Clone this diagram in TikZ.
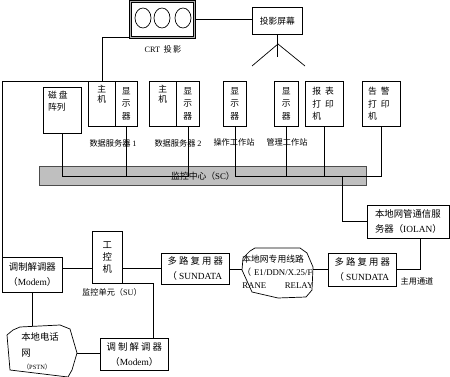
\documentclass[tikz,border=0pt]{standalone}
\usepackage{fontspec}
\usepackage{tikz}
\setmainfont{Liberation Serif}
\newfontfamily\cjk{Noto Sans CJK SC}
\newfontfamily\lat{Liberation Serif}
\newcommand{\unitpx}{0.03cm}

\begin{document}
\begin{tikzpicture}[x=0.03cm, y=-0.03cm, line width=0.6pt,
    box/.style={draw, anchor=north west, inner sep=1pt, align=center,
                font=\cjk\fontsize{8}{13}\selectfont},
    upbox/.style={box, font=\cjk\fontsize{7.5}{11}\selectfont},
    crtbox/.style={draw, anchor=north west, line width=0.5pt,
                   double=black!30, double distance=1.2pt},
    bar/.style={draw=black!70, fill=black!25, line width=0.8pt, anchor=north west,
                font=\cjk\fontsize{7.5}{9}\selectfont},
    intext/.style={inner sep=0pt, align=left, font=\cjk\fontsize{7.5}{10.6}\selectfont},
    lbl/.style={inner sep=0pt, font=\cjk\fontsize{7}{9}\selectfont}]

  \useasboundingbox (0,0) rectangle (450,377);
  \clip (0,0) rectangle (450,377);

  % -- projector and screen -------------------------------------------------
  \node[crtbox, minimum width=64*\unitpx, minimum height=36*\unitpx] (crt) at (130,1) {};
  \foreach \cx in {143,162,183}{
    \draw (\cx,18) ellipse [x radius=8, y radius=10];}
  \node[lbl] (crtlbl) at (163,49) {{\lat CRT}\ \ 投\,影};
  \node[upbox, minimum width=50*\unitpx, minimum height=27*\unitpx] (screen) at (252,7) {投影屏幕};
  \draw (crt.east) -- (crt.east -| screen.west);
  % tripod under the screen
  \coordinate (leg) at (278,44);
  \draw (screen.south) -- ++(0,22);
  \draw (leg) -- ++(-26,22);
  \draw (leg) -- ++(27,22);

  % -- the row of servers, stations and printers -----------------------------
  \node[upbox, minimum width=38*\unitpx, minimum height=46*\unitpx,
        label={[intext, anchor=north west, xshift=4pt, yshift=-3pt]north west:磁\ 盘\\阵列}] (disk) at (43,87) {};
  \node[upbox, minimum width=27*\unitpx, minimum height=45*\unitpx,
        label={[intext, anchor=north, yshift=-3pt, font=\cjk\fontsize{7.5}{8.5}\selectfont]north:主\\机}] (host1) at (88,81) {};
  \node[upbox, minimum width=22*\unitpx, minimum height=45*\unitpx] (disp1) at (115,81) {显\\示\\器};
  \node[upbox, minimum width=27*\unitpx, minimum height=45*\unitpx,
        label={[intext, anchor=north, yshift=-3pt, font=\cjk\fontsize{7.5}{8.5}\selectfont]north:主\\机}] (host2) at (149,81) {};
  \node[upbox, minimum width=23*\unitpx, minimum height=45*\unitpx] (disp2) at (176,81) {显\\示\\器};
  \node[upbox, minimum width=23*\unitpx, minimum height=45*\unitpx] (disp3) at (223,81) {显\\示\\器};
  \node[upbox, minimum width=24*\unitpx, minimum height=45*\unitpx] (disp4) at (274,81) {显\\示\\器};
  \node[upbox, minimum width=38*\unitpx, minimum height=45*\unitpx,
        label={[intext, anchor=north west, xshift=6pt, yshift=-5pt]north west:报\ \ 表\\打\ \ 印\\机}] (rpt) at (305,81) {};
  \node[upbox, minimum width=38*\unitpx, minimum height=45*\unitpx,
        label={[intext, anchor=north west, xshift=5pt, yshift=-5pt]north west:告\ \ 警\\打\ \ 印\\机}] (alarm) at (362,81) {};

  \node[lbl] (srv1) at (113,143) {数据服务器 {\lat 1}};
  \node[lbl] (srv2) at (178,143) {数据服务器 {\lat 2}};
  \node[lbl] (opws) at (234,142) {操作工作站};
  \node[lbl] (mgws) at (287,142) {管理工作站};

  \draw (crt.south west) -| (host1.north);

  % -- the monitoring centre bus ----------------------------------------------
  \node[bar, minimum width=327*\unitpx, minimum height=19*\unitpx] (sc) at (39,166) {监控中心（{\lat SC}）};
  \coordinate (busR) at (alarm.south |- sc.center);
  \coordinate (tap) at (342,176);
  \draw (disk.south) |- (disp2.south |- sc.center) -- (disp2.south);
  \draw (disp3.south) |- (busR) -- (alarm.south);
  \foreach \d in {disp1,disp4,rpt}{
    \draw (\d.south) -- (\d.south |- sc.center);}

  % -- network side -----------------------------------------------------------
  \node[box, minimum width=82*\unitpx, minimum height=33*\unitpx, align=left] (iolan) at (367,205)
       {本地网管通信服\\务器（{\lat IOLAN}）};
  \node[box, minimum width=68*\unitpx, minimum height=33*\unitpx, align=left] (mux2) at (328,253)
       {多 路 复 用 器\\（ {\lat SUNDATA}};
  \node[lbl] (mainch) at (417,281) {主用通道};
  \draw (tap) |- (iolan.west);
  \draw ([xshift=0.36cm]iolan.south) |- (mux2.east);

  % leased line cloud
  \draw (250,251) -- (255,248) -- (300,248) -- (307,253) -- (313,267) -- (312,290)
        -- (306,297) -- (278,298) -- (252,292) -- (242,270) -- (243,258) -- cycle;
  \node[inner sep=0pt, align=left, text width=71*\unitpx, anchor=north west,
        font=\cjk\fontsize{7.5}{11}\selectfont] (lease) at (242,255)
       {本地网专用线路\\（ {\lat E1/DDN/X.25/F}\\{\lat RANE\hfill RELAY}};
  \coordinate (netW) at (242,269);
  \coordinate (netE) at (313,269);
  \draw (netE) -- (netE -| mux2.west);

  \node[box, minimum width=68*\unitpx, minimum height=31*\unitpx, align=left] (mux1) at (161,253)
       {多 路 复 用 器\\（ {\lat SUNDATA}};
  \draw (mux1.east |- netW) -- (netW);

  % -- monitoring unit ---------------------------------------------------------
  \node[box, minimum width=30*\unitpx, minimum height=52*\unitpx, font=\cjk\fontsize{8}{10}\selectfont] (ipc) at (92,231) {工\\控\\机};
  \node[box, minimum width=60*\unitpx, minimum height=35*\unitpx] (modem1) at (2,257) {调制解调器\\（{\lat Modem}）};
  \node[lbl] (su) at (112,292) {监控单元（{\lat SU}）};
  \node[box, minimum width=68*\unitpx, minimum height=32*\unitpx] (modem2) at (100,338) {调 制 解 调 器\\（{\lat Modem}）};
  \draw (ipc.east |- mux1.west) -- (mux1.west);
  \draw (ipc.west |- mux1.west) -- (modem1.east |- mux1.west);
  \draw ([xshift=-0.2cm]ipc.south east) -| ([xshift=0.57cm]modem2.north);
  \draw (modem1.north west) |- (host1.north west);

  % telephone network cloud
  \draw (7,335) -- (13,330) -- (20,327) -- (60,325) -- (70,329) -- (77,353)
        -- (72,370) -- (68,377) -- (10,370) -- cycle;
  \coordinate (pstnN) at (modem1.south |- 0,326);
  \coordinate (pstnE) at (77,353);
  \node[inner sep=0pt, align=left, anchor=north west,
        font=\cjk\fontsize{8}{14}\selectfont] (pstn) at (21,332)
       {本地电话\\网\\[-3pt]{\fontsize{5.5}{6}\selectfont\ （{\lat PSTN}）}};
  \draw (modem1.south) -- (pstnN);
  \draw (pstnE) -- (pstnE -| modem2.west);

\end{tikzpicture}
\end{document}
